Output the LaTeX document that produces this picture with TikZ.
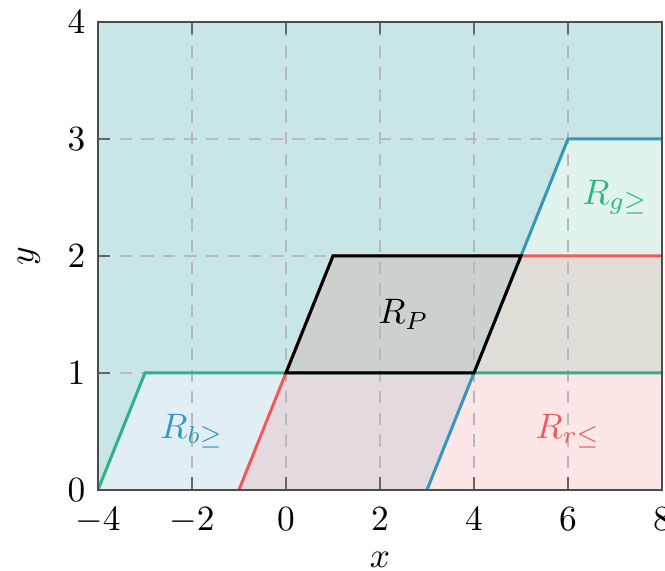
\documentclass[tikz,border=0pt]{standalone}
\usepackage{amsmath}
\definecolor{cg}{RGB}{46,179,136}
\definecolor{cb}{RGB}{55,150,190}
\definecolor{cr}{RGB}{240,90,90}
\tikzset{
  regfill/.style={fill opacity=0.15},
  bound/.style={line width=0.85pt, line join=miter},
  gridline/.style={gray!55, line width=0.4pt, dash pattern=on 3.5pt off 2.6pt},
  tickmark/.style={black!60, line width=0.4pt},
  frame/.style={black!70, line width=0.5pt},
  ticklab/.style={inner sep=0pt},
  reglab/.style={inner sep=0pt}
}
\begin{document}
\begin{tikzpicture}[x=13.28pt,y=33.05pt]
\useasboundingbox (-6.085,-0.692) rectangle (8.064,4.188);
% key points
\coordinate (g0) at (-4,0); \coordinate (g1) at (-3,1); \coordinate (g2) at (8,1);
\coordinate (b0) at (3,0);  \coordinate (b1) at (6,3);  \coordinate (b2) at (8,3);
\coordinate (r0) at (-1,0); \coordinate (r1) at (1,2);  \coordinate (r2) at (8,2);
\coordinate (p0) at (0,1); \coordinate (p1) at (1,2); \coordinate (p2) at (5,2); \coordinate (p3) at (4,1);
\begin{scope}
\clip (-4,0) rectangle (8,4);
\fill[cb, regfill] (g0) -- (b0) -- (b1) -- (b2) -- (8,4) -- (-4,4) -- cycle;
\fill[cg, regfill] (g0) -- (g1) -- (g2) -- (8,4) -- (-4,4) -- cycle;
\fill[cr, regfill] (r0) -- (r1) -- (r2) -- (8,0) -- cycle;
% grid
\foreach \gx in {-2,0,2,4,6} \draw[gridline] (\gx,0) -- (\gx,4);
\foreach \gy in {1,2,3} \draw[gridline] (-4,\gy) -- (8,\gy);
% ticks
\foreach \gx in {-4,-2,0,2,4,6,8} {\draw[tickmark] (\gx,0) -- ++(0,3.5pt); \draw[tickmark] (\gx,4) -- ++(0,-3.5pt);}
\foreach \gy in {0,1,2,3,4} {\draw[tickmark] (-4,\gy) -- ++(3.5pt,0); \draw[tickmark] (8,\gy) -- ++(-3.5pt,0);}
% boundaries
\draw[bound, cg] (g0) -- (g1) -- (g2);
\draw[bound, cr] (r0) -- (r1) -- (r2);
\draw[bound, cb] (b0) -- (b1) -- (b2);
\draw[bound, black] (p0) -- (p1) -- (p2) -- (p3) -- cycle;
\end{scope}
\draw[frame] (-4,0) rectangle (8,4);
% region labels
\node[reglab, text=cb] (lb) at (-2,0.5) {$R_{b\geq}$};
\node[reglab, text=cr] (lr) at (6,0.5) {$R_{r\leq}$};
\node[reglab, text=cg] (lg) at (7,2.5) {$R_{g\geq}$};
\node[reglab, text=black] (lp) at (2.5,1.5) {$R_P$};
% tick labels
\foreach \gx in {-4,-2,0,2,4,6,8} \node[anchor=north, yshift=-4.8pt, ticklab] (tx\gx) at (\gx,0) {$\gx$};
\foreach \gy in {0,1,2,3,4} \node[anchor=east, xshift=-3.4pt, ticklab] (ty\gy) at (-4,\gy) {$\gy$};
\node (xl) at (2,-0.6) {$x$};
\node[rotate=90] (yl) at (-5.47,2) {$y$};
\end{tikzpicture}
\end{document}
